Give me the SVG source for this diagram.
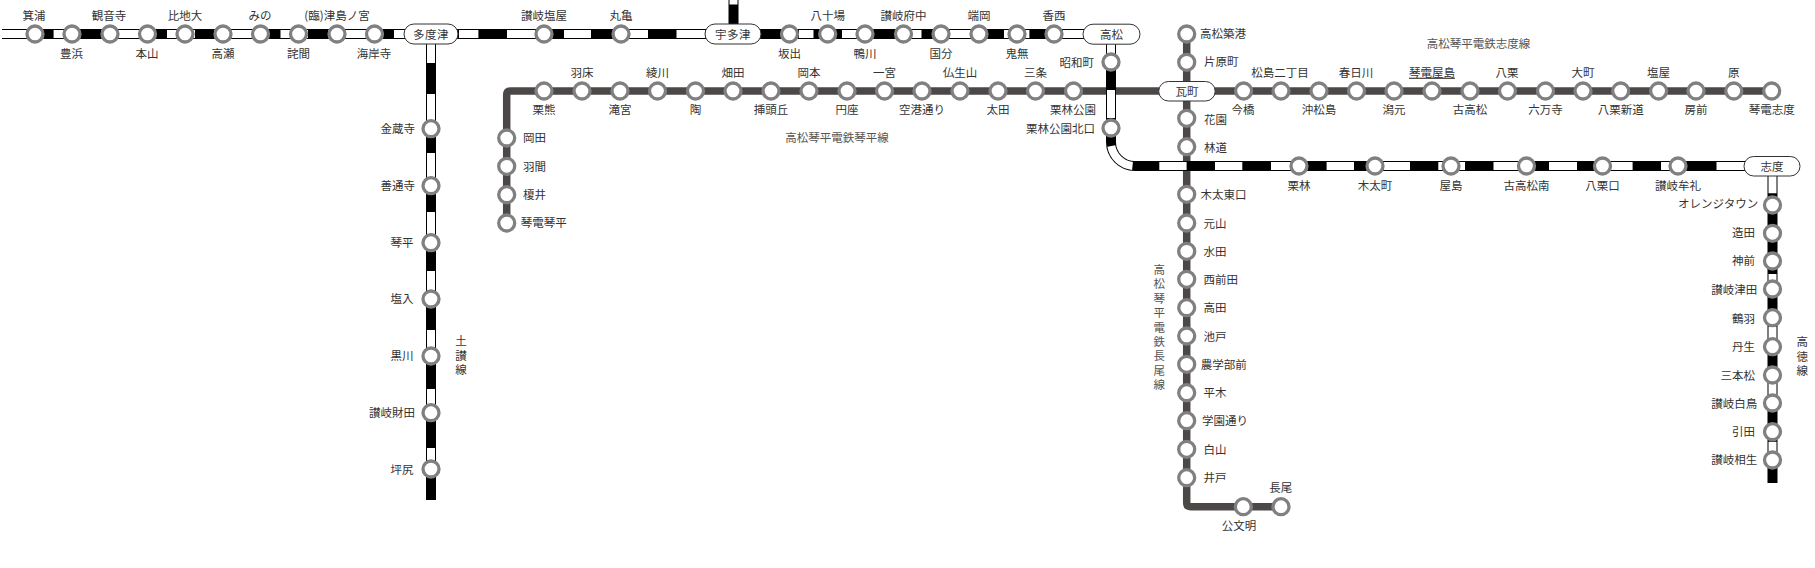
<svg xmlns="http://www.w3.org/2000/svg" width="1815" height="568" viewBox="0 0 1815 568">
<style>
text{font-family:"Noto Sans CJK JP","Liberation Sans",sans-serif;font-size:11.5px;fill:#333;dominant-baseline:central}
.m{text-anchor:middle}.s{text-anchor:start}.e{text-anchor:end}
.rt{fill:#555}
.st{fill:#fff;stroke:#808080;stroke-width:3.3}
.pl{fill:#fff;stroke:#333;stroke-width:1}
.dk{fill:none;stroke:#4d4848;stroke-width:7.5;stroke-linejoin:round}
.jb{fill:none;stroke:#000;stroke-width:10}
.jw{fill:none;stroke:#fff;stroke-width:8}
</style>
<rect width="1815" height="568" fill="#fff"/>
<g id="connectors">
<path class="dk" d="M506.7 223V95Q506.7 91 510.7 91H1187"/>
<path class="dk" d="M1187 91H1771.7"/>
<path class="dk" d="M1186.7 34V502.7Q1186.7 506.7 1190.7 506.7H1281"/>
<path class="jb" d="M2 34H1084"/>
<path class="jb" d="M431 44V500"/>
<path class="jb" d="M733.5 0V24"/>
<path class="jb" d="M1111 44V142A24 24 0 0 0 1135 166H1772.5V483"/>
<path class="jw" d="M2 34H30M53.6 34H80M101 34H145M167 34H195M214 34H255M280.5 34H308M328 34H370M394 34H405M459 34H478.4M507 34H535M564 34H591M628.7 34H648M676.5 34H705M799 34H813.5M842 34H857M912 34H921.5M950 34H971M1004 34H1029.4M1063 34H1084"/>
<path class="jw" d="M431 44V63M431 94V128M431 153V186M431 212V243M431 271V299M431 330V356M431 389V412M431 448V469"/>
<path class="jw" d="M733.5 0V4.5"/>
<path class="jw" d="M1111 44V55M1111 90V118M1111.3 146A24 24 0 0 0 1132.5 165.9"/>
<path class="jw" d="M1159.3 166H1186.6M1215 166H1242.3M1271 166H1291M1326.6 166H1354M1383.6 166H1410M1438.3 166H1445M1459 166H1465M1493.5 166H1518.6M1549 166H1577M1610 166H1632.6M1661 166H1670M1716.5 166H1745"/>
<path class="jw" d="M1772.5 176V193.3M1772.5 274V281M1772.5 326.7V338M1772.5 381.7V395M1772.5 441.7V452"/>
</g>
<g id="line-labels">
<text class="m rt" x="837" y="136.7">高松琴平電鉄琴平線</text>
<text class="m rt" x="1478.5" y="43.3">高松琴平電鉄志度線</text>
<text class="m" x="461 461 461" y="340 354.5 369">土讃線</text>
<text class="m" x="1802.3 1802.3 1802.3" y="341 355.5 370">高徳線</text>
<text class="m rt" x="1159.3 1159.3 1159.3 1159.3 1159.3 1159.3 1159.3 1159.3 1159.3" y="269 283.4 297.8 312.2 326.6 341 355.4 369.8 384.2">高松琴平電鉄長尾線</text>
</g>
<g id="yosan">
<g id="minoura"><circle class="st" cx="35" cy="34" r="8"/><text class="m" x="34" y="14.5">箕浦</text></g>
<g id="toyohama"><circle class="st" cx="72" cy="34" r="8"/><text class="m" x="71.6" y="52.7">豊浜</text></g>
<g id="kanonji"><circle class="st" cx="110" cy="34" r="8"/><text class="m" x="109" y="14.5">観音寺</text></g>
<g id="motoyama"><circle class="st" cx="147.5" cy="34" r="8"/><text class="m" x="147" y="52.7">本山</text></g>
<g id="hijidai"><circle class="st" cx="185" cy="34" r="8"/><text class="m" x="185" y="14.5">比地大</text></g>
<g id="takase"><circle class="st" cx="223" cy="34" r="8"/><text class="m" x="223" y="52.7">高瀬</text></g>
<g id="mino"><circle class="st" cx="260.5" cy="34" r="8"/><text class="m" x="260" y="14.5">みの</text></g>
<g id="takuma"><circle class="st" cx="298.5" cy="34" r="8"/><text class="m" x="298.5" y="52.7">詫間</text></g>
<g id="tsushimanomiya"><circle class="st" cx="337" cy="34" r="8"/><text class="m" x="337" y="14.5">(臨)津島ノ宮</text></g>
<g id="kaiganji"><circle class="st" cx="374.5" cy="34" r="8"/><text class="m" x="374" y="52.7">海岸寺</text></g>
<g id="tadotsu"><rect class="pl" x="404" y="24" width="54" height="20" rx="10"/><text class="m" x="431" y="34" style="letter-spacing:.5px">多度津</text></g>
<g id="sanukishioya"><circle class="st" cx="544" cy="34" r="8"/><text class="m" x="544" y="14.5">讃岐塩屋</text></g>
<g id="marugame"><circle class="st" cx="621" cy="34" r="8"/><text class="m" x="621" y="14.5">丸亀</text></g>
<g id="utazu"><rect class="pl" x="705" y="24" width="56" height="20" rx="10"/><text class="m" x="733" y="34" style="letter-spacing:.5px">宇多津</text></g>
<g id="sakaide"><circle class="st" cx="789.5" cy="34" r="8"/><text class="m" x="789.5" y="52.7">坂出</text></g>
<g id="yasoba"><circle class="st" cx="827.7" cy="34" r="8"/><text class="m" x="827.7" y="14.5">八十場</text></g>
<g id="kamogawa"><circle class="st" cx="865" cy="34" r="8"/><text class="m" x="865" y="52.7">鴨川</text></g>
<g id="sanukifuchu"><circle class="st" cx="903.5" cy="34" r="8"/><text class="m" x="903.5" y="14.5">讃岐府中</text></g>
<g id="kokubu"><circle class="st" cx="941" cy="34" r="8"/><text class="m" x="941" y="52.7">国分</text></g>
<g id="hashioka"><circle class="st" cx="979" cy="34" r="8"/><text class="m" x="979" y="14.5">端岡</text></g>
<g id="kinashi"><circle class="st" cx="1017" cy="34" r="8"/><text class="m" x="1017" y="52.7">鬼無</text></g>
<g id="kozai"><circle class="st" cx="1054" cy="34" r="8"/><text class="m" x="1054" y="14.5">香西</text></g>
<g id="takamatsu"><rect class="pl" x="1083" y="24.2" width="57" height="20" rx="10"/><text class="m" x="1111.5" y="34">高松</text></g>
</g>
<g id="dosan">
<g id="konzoji"><circle class="st" cx="431" cy="128.7" r="8"/><text class="e" x="415" y="128.2">金蔵寺</text></g>
<g id="zentsuji"><circle class="st" cx="431" cy="185.7" r="8"/><text class="e" x="415" y="185">善通寺</text></g>
<g id="kotohira"><circle class="st" cx="431" cy="242.7" r="8"/><text class="e" x="413.5" y="241.5">琴平</text></g>
<g id="shioiri"><circle class="st" cx="431" cy="299" r="8"/><text class="e" x="413.5" y="298">塩入</text></g>
<g id="kurokawa"><circle class="st" cx="431" cy="356" r="8"/><text class="e" x="413.5" y="355">黒川</text></g>
<g id="sanukizaita"><circle class="st" cx="431" cy="412.7" r="8"/><text class="e" x="415" y="412">讃岐財田</text></g>
<g id="tsubojiri"><circle class="st" cx="431" cy="469" r="8"/><text class="e" x="413.5" y="468.5">坪尻</text></g>
</g>
<g id="kotoden-kotohira">
<g id="kotoden-kotohira-end"><circle class="st" cx="506.7" cy="223" r="8"/><text class="s" x="520.7" y="222.3">琴電琴平</text></g>
<g id="enoi"><circle class="st" cx="506.7" cy="194.7" r="8"/><text class="s" x="523" y="194">榎井</text></g>
<g id="hazama"><circle class="st" cx="506.7" cy="166.3" r="8"/><text class="s" x="523" y="165.5">羽間</text></g>
<g id="okada"><circle class="st" cx="506.7" cy="138" r="8"/><text class="s" x="523" y="137.3">岡田</text></g>
<g id="kurikuma"><circle class="st" cx="544" cy="91" r="8"/><text class="m" x="544" y="108.5">栗熊</text></g>
<g id="habu"><circle class="st" cx="582" cy="91" r="8"/><text class="m" x="582" y="71.7">羽床</text></g>
<g id="takinomiya"><circle class="st" cx="620" cy="91" r="8"/><text class="m" x="620" y="108.5">滝宮</text></g>
<g id="ayagawa"><circle class="st" cx="657.5" cy="91" r="8"/><text class="m" x="657.5" y="71.7">綾川</text></g>
<g id="sue"><circle class="st" cx="695.5" cy="91" r="8"/><text class="m" x="695.5" y="108.5">陶</text></g>
<g id="hatada"><circle class="st" cx="733" cy="91" r="8"/><text class="m" x="733" y="71.7">畑田</text></g>
<g id="kagashiraoka"><circle class="st" cx="771" cy="91" r="8"/><text class="m" x="771" y="108.5">挿頭丘</text></g>
<g id="okamoto"><circle class="st" cx="809" cy="91" r="8"/><text class="m" x="809" y="71.7">岡本</text></g>
<g id="enza"><circle class="st" cx="847" cy="91" r="8"/><text class="m" x="847" y="108.5">円座</text></g>
<g id="ichinomiya"><circle class="st" cx="884.5" cy="91" r="8"/><text class="m" x="884.5" y="71.7">一宮</text></g>
<g id="kuko-dori"><circle class="st" cx="922" cy="91" r="8"/><text class="m" x="922" y="108.5">空港通り</text></g>
<g id="bussho-zan"><circle class="st" cx="960" cy="91" r="8"/><text class="m" x="960" y="71.7">仏生山</text></g>
<g id="ota"><circle class="st" cx="998" cy="91" r="8"/><text class="m" x="998" y="108.5">太田</text></g>
<g id="sanjo"><circle class="st" cx="1035.5" cy="91" r="8"/><text class="m" x="1035.5" y="71.7">三条</text></g>
<g id="ritsurin-koen"><circle class="st" cx="1073.5" cy="91" r="8"/><text class="m" x="1073" y="108.5">栗林公園</text></g>
<g id="showacho"><circle class="st" cx="1111" cy="62" r="8"/><text class="e" x="1094" y="62">昭和町</text></g>
<g id="ritsurin-koen-kitaguchi"><circle class="st" cx="1111" cy="128" r="8"/><text class="e" x="1095" y="128">栗林公園北口</text></g>
</g>
<g id="nagao">
<g id="takamatsu-chikko"><circle class="st" cx="1186.7" cy="34" r="8"/><text class="s" x="1200" y="33">高松築港</text></g>
<g id="kataharamachi"><circle class="st" cx="1186.7" cy="62.3" r="8"/><text class="s" x="1204" y="61">片原町</text></g>
<g id="kawaramachi"><rect class="pl" x="1158.7" y="81.5" width="56.5" height="19.5" rx="9.7"/><text class="m" x="1187" y="91">瓦町</text></g>
<g id="hanazono"><circle class="st" cx="1186.7" cy="118.3" r="8"/><text class="s" x="1204" y="118.7">花園</text></g>
<g id="hayashimichi"><circle class="st" cx="1186.7" cy="146.7" r="8"/><text class="s" x="1204" y="146.7">林道</text></g>
<g id="kita-higashiguchi"><circle class="st" cx="1186.7" cy="194.3" r="8"/><text class="s" x="1200.5" y="194">木太東口</text></g>
<g id="motoyama-k"><circle class="st" cx="1186.7" cy="223" r="8"/><text class="s" x="1203.5" y="222.5">元山</text></g>
<g id="mizuta"><circle class="st" cx="1186.7" cy="251.3" r="8"/><text class="s" x="1203.5" y="250.8">水田</text></g>
<g id="nishimaeda"><circle class="st" cx="1186.7" cy="279.3" r="8"/><text class="s" x="1203.5" y="279">西前田</text></g>
<g id="takada"><circle class="st" cx="1186.7" cy="307.7" r="8"/><text class="s" x="1203.5" y="307.2">高田</text></g>
<g id="iketo"><circle class="st" cx="1186.7" cy="336" r="8"/><text class="s" x="1203.5" y="335.5">池戸</text></g>
<g id="nogakubumae"><circle class="st" cx="1186.7" cy="364.3" r="8"/><text class="s" x="1200.7" y="363.8">農学部前</text></g>
<g id="hiragi"><circle class="st" cx="1186.7" cy="392.7" r="8"/><text class="s" x="1203.5" y="392.2">平木</text></g>
<g id="gakuen-dori"><circle class="st" cx="1186.7" cy="420.7" r="8"/><text class="s" x="1202" y="420.2">学園通り</text></g>
<g id="shirayama"><circle class="st" cx="1186.7" cy="449.3" r="8"/><text class="s" x="1203.5" y="448.8">白山</text></g>
<g id="ido"><circle class="st" cx="1186.7" cy="477.7" r="8"/><text class="s" x="1203.5" y="477.2">井戸</text></g>
<g id="kumonmyo"><circle class="st" cx="1243.3" cy="506.7" r="8"/><text class="m" x="1239" y="525">公文明</text></g>
<g id="nagao-end"><circle class="st" cx="1281" cy="506.7" r="8"/><text class="m" x="1280.7" y="487.3">長尾</text></g>
</g>
<g id="shido-kotoden">
<g id="imabashi"><circle class="st" cx="1243.6" cy="91" r="8"/><text class="m" x="1243" y="108.5">今橋</text></g>
<g id="matsushima-nichome"><circle class="st" cx="1281" cy="91" r="8"/><text class="m" x="1280" y="71.7">松島二丁目</text></g>
<g id="okimatsushima"><circle class="st" cx="1319" cy="91" r="8"/><text class="m" x="1319" y="108.5">沖松島</text></g>
<g id="kasugagawa"><circle class="st" cx="1356.5" cy="91" r="8"/><text class="m" x="1356" y="71.7">春日川</text></g>
<g id="katamoto"><circle class="st" cx="1394" cy="91" r="8"/><text class="m" x="1394" y="108.5">潟元</text></g>
<g id="kotoden-yashima"><circle class="st" cx="1432" cy="91" r="8"/><text class="m" x="1432" y="71.7" text-decoration="underline">琴電屋島</text></g>
<g id="furutakamatsu"><circle class="st" cx="1470" cy="91" r="8"/><text class="m" x="1470" y="108.5">古高松</text></g>
<g id="yakuri"><circle class="st" cx="1507.5" cy="91" r="8"/><text class="m" x="1507" y="71.7">八栗</text></g>
<g id="rokumanji"><circle class="st" cx="1545.5" cy="91" r="8"/><text class="m" x="1545.5" y="108.5">六万寺</text></g>
<g id="omachi"><circle class="st" cx="1583" cy="91" r="8"/><text class="m" x="1583" y="71.7">大町</text></g>
<g id="yakuri-shindo"><circle class="st" cx="1620.7" cy="91" r="8"/><text class="m" x="1620.7" y="108.5">八栗新道</text></g>
<g id="shioya"><circle class="st" cx="1658.6" cy="91" r="8"/><text class="m" x="1658.6" y="71.7">塩屋</text></g>
<g id="fusazaki"><circle class="st" cx="1696" cy="91" r="8"/><text class="m" x="1696" y="108.5">房前</text></g>
<g id="hara"><circle class="st" cx="1733.8" cy="91" r="8"/><text class="m" x="1733.8" y="71.7">原</text></g>
<g id="kotoden-shido"><circle class="st" cx="1771.7" cy="91" r="8"/><text class="m" x="1771.7" y="108.5">琴電志度</text></g>
</g>
<g id="kotoku">
<g id="ritsurin"><circle class="st" cx="1299" cy="166" r="8"/><text class="m" x="1299" y="185">栗林</text></g>
<g id="kitamachi"><circle class="st" cx="1375" cy="166" r="8"/><text class="m" x="1375" y="185">木太町</text></g>
<g id="yashima"><circle class="st" cx="1451" cy="166" r="8"/><text class="m" x="1451" y="185">屋島</text></g>
<g id="kotakamatsu-minami"><circle class="st" cx="1526.5" cy="166" r="8"/><text class="m" x="1526.5" y="185">古高松南</text></g>
<g id="yakuriguchi"><circle class="st" cx="1602.5" cy="166" r="8"/><text class="m" x="1602.5" y="185">八栗口</text></g>
<g id="sanukimure"><circle class="st" cx="1678" cy="166" r="8"/><text class="m" x="1678" y="185">讃岐牟礼</text></g>
<g id="shido"><rect class="pl" x="1744" y="156.5" width="56" height="19.5" rx="9.7"/><text class="m" x="1772" y="166">志度</text></g>
<g id="orange-town"><circle class="st" cx="1772.5" cy="205" r="8"/><text class="e" x="1758.3" y="203.3">オレンジタウン</text></g>
<g id="zota"><circle class="st" cx="1772.5" cy="233.3" r="8"/><text class="e" x="1755" y="231.7">造田</text></g>
<g id="kanzaki"><circle class="st" cx="1772.5" cy="261" r="8"/><text class="e" x="1755" y="260">神前</text></g>
<g id="sanukitsuda"><circle class="st" cx="1772.5" cy="289" r="8"/><text class="e" x="1757.3" y="289">讃岐津田</text></g>
<g id="tsuruwa"><circle class="st" cx="1772.5" cy="317.7" r="8"/><text class="e" x="1755" y="317.7">鶴羽</text></g>
<g id="nyu"><circle class="st" cx="1772.5" cy="346.7" r="8"/><text class="e" x="1755" y="346">丹生</text></g>
<g id="sanbonmatsu"><circle class="st" cx="1772.5" cy="375" r="8"/><text class="e" x="1755" y="375">三本松</text></g>
<g id="sanukishirotori"><circle class="st" cx="1772.5" cy="403" r="8"/><text class="e" x="1757.3" y="402.7">讃岐白鳥</text></g>
<g id="hiketa"><circle class="st" cx="1772.5" cy="431.7" r="8"/><text class="e" x="1755" y="431">引田</text></g>
<g id="sanukiaioi"><circle class="st" cx="1772.5" cy="460" r="8"/><text class="e" x="1757.3" y="459.3">讃岐相生</text></g>
</g>
</svg>
